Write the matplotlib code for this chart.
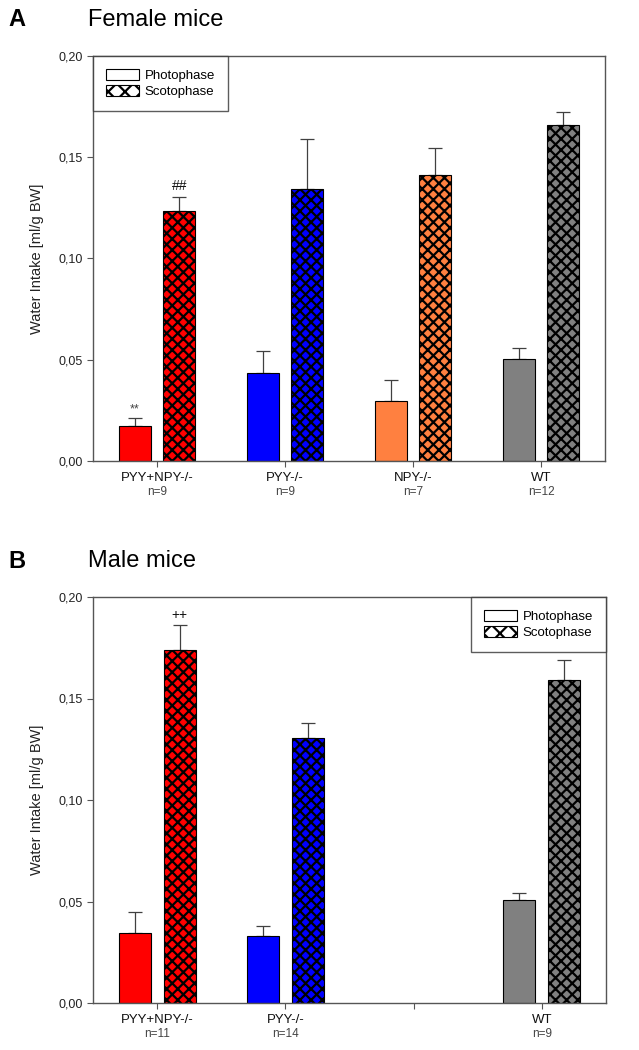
import matplotlib
matplotlib.use("Agg")
import matplotlib.pyplot as plt
import numpy as np
from matplotlib.patches import Patch
from matplotlib.ticker import FuncFormatter

plt.rcParams['font.family'] = ['Liberation Sans', 'DejaVu Sans']
plt.rcParams['hatch.linewidth'] = 1.6

groups = ["PYY+NPY-/-", "PYY-/-", "NPY-/-", "WT"]
colors = ["#ff0000", "#0000ff", "#ff8040", "#808080"]

female_n = ["n=9", "n=9", "n=7", "n=12"]
female_photo = [0.0172, 0.0435, 0.0298, 0.0505]
female_photo_err = [0.0038, 0.0110, 0.0100, 0.0055]
female_scoto = [0.1235, 0.1345, 0.1410, 0.1660]
female_scoto_err = [0.0070, 0.0245, 0.0135, 0.0065]

male_groups = ["PYY+NPY-/-", "PYY-/-", "", "WT"]
male_n = ["n=11", "n=14", "", "n=9"]
male_photo = [0.0345, 0.0330, np.nan, 0.0505]
male_photo_err = [0.0105, 0.0050, np.nan, 0.0035]
male_scoto = [0.1740, 0.1305, np.nan, 0.1590]
male_scoto_err = [0.0120, 0.0075, np.nan, 0.0100]

fig = plt.figure(figsize=(6.39, 10.5), dpi=100)
W, H = 639, 1050


def panel(rect, photo, photo_err, scoto, scoto_err, names, ns, legend_loc, marks):
    ax = fig.add_axes(rect)
    x = np.arange(len(names))
    off, w = 0.175, 0.25
    for i in range(len(x)):
        if np.isnan(photo[i]):
            continue
        ax.bar(x[i] - off, photo[i], w, color=colors[i], edgecolor="black", linewidth=0.8, zorder=2)
        ax.bar(x[i] + off, scoto[i], w, color=colors[i], edgecolor="black", linewidth=0.8,
               hatch="xxx", zorder=2)
        ax.errorbar(x[i] - off, photo[i], yerr=[[0], [photo_err[i]]], fmt="none",
                    ecolor="#404040", elinewidth=0.9, capsize=5, capthick=0.9, zorder=1)
        ax.errorbar(x[i] + off, scoto[i], yerr=[[0], [scoto_err[i]]], fmt="none",
                    ecolor="#404040", elinewidth=0.9, capsize=5, capthick=0.9, zorder=1)
    for xi, yi, txt, fs, col in marks:
        ax.text(xi, yi, txt, ha="center", va="bottom", fontsize=fs, color=col)
    ax.set_xlim(-0.5, 3.5)
    ax.set_ylim(0, 0.2)
    ax.set_yticks([0, 0.05, 0.10, 0.15, 0.20])
    ax.yaxis.set_major_formatter(FuncFormatter(lambda v, p: f"{v:.2f}".replace(".", ",")))
    ax.set_xticks(x)
    ax.set_xticklabels([])
    for i in range(len(x)):
        ax.text(x[i], -0.0055, names[i], ha="center", va="top", fontsize=9.5, color="#111111",
                transform=ax.transData)
        ax.text(x[i], -0.0125, ns[i], ha="center", va="top", fontsize=8.5, color="#444444",
                transform=ax.transData)
    ax.tick_params(axis="both", direction="out", length=4, width=0.8, colors="#555555",
                   labelcolor="#222222", labelsize=9)
    for s in ax.spines.values():
        s.set_color("#555555")
        s.set_linewidth(1.0)
    ax.set_ylabel("Water Intake [ml/g BW]", fontsize=10.5, color="#222222", labelpad=10)
    handles = [Patch(facecolor="white", edgecolor="black", linewidth=0.8, label="Photophase"),
               Patch(facecolor="white", edgecolor="black", linewidth=0.8, hatch="xx", label="Scotophase")]
    leg = ax.legend(handles=handles, loc=legend_loc, fontsize=9.5, frameon=True, fancybox=False,
                    borderaxespad=0, handlelength=2.5, handleheight=0.9, borderpad=1.0,
                    labelspacing=0.2, handletextpad=0.4)
    leg.get_frame().set_edgecolor("#333333")
    leg.get_frame().set_linewidth(1.0)
    return ax


def rect(l, t, r, b):
    return [l / W, 1 - b / H, (r - l) / W, (b - t) / H]


panel(rect(93, 56, 605, 461), female_photo, female_photo_err, female_scoto, female_scoto_err,
      groups, female_n, "upper left",
      [(-0.175, 0.0225, "**", 9, "#444444"), (0.175, 0.1325, "##", 10, "#111111")])
fig.text(8 / W, 1 - 20 / H, "A", fontsize=17, fontweight="bold", va="center")
fig.text(88 / W, 1 - 20 / H, "Female mice", fontsize=17, va="center")

panel(rect(93, 597, 606, 1003), male_photo, male_photo_err, male_scoto, male_scoto_err,
      male_groups, male_n, "upper right",
      [(0.175, 0.1875, "++", 10, "#111111")])
fig.text(8 / W, 1 - 561 / H, "B", fontsize=17, fontweight="bold", va="center")
fig.text(88 / W, 1 - 561 / H, "Male mice", fontsize=17, va="center")

fig.savefig("out.png", dpi=100)
